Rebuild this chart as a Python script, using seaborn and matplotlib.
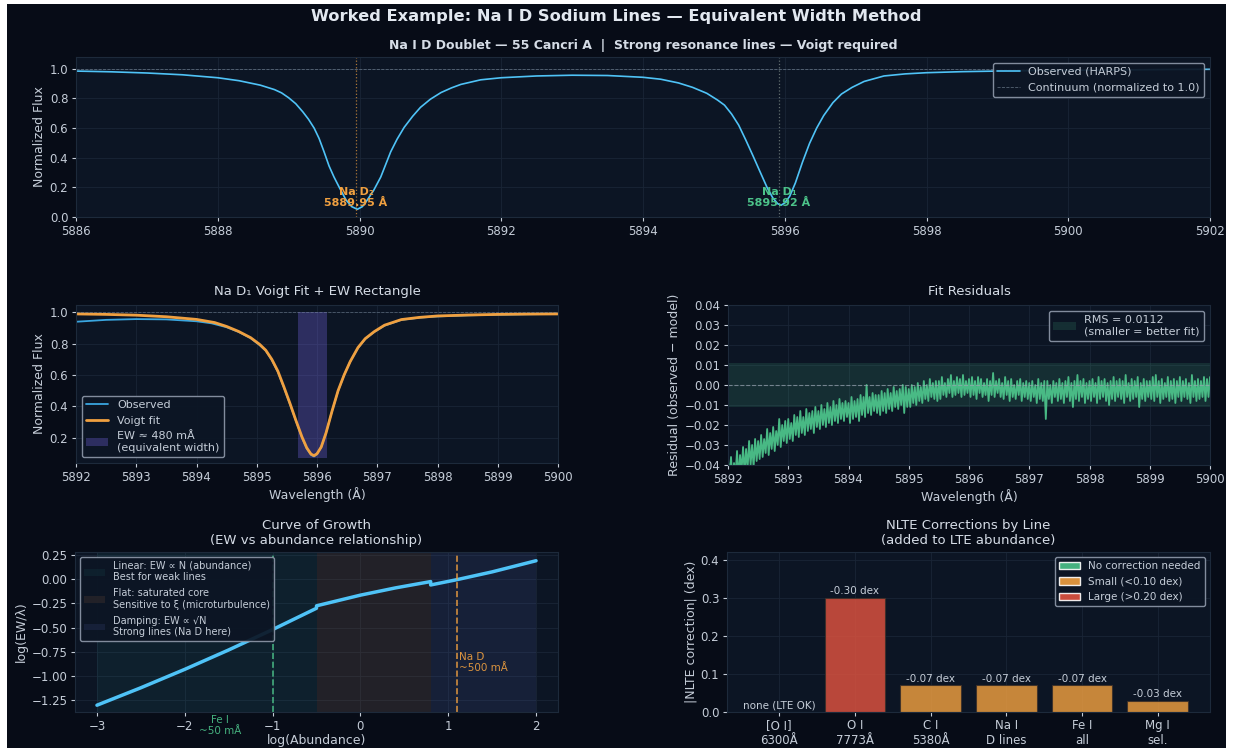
import numpy as np
import pandas as pd
import matplotlib
matplotlib.use("Agg")
import matplotlib.pyplot as plt
import seaborn as sns
from matplotlib.patches import Patch, Rectangle

# ---------------- data ----------------
wl_top = [5886.0, 5886.5, 5887.0, 5887.5, 5888.0, 5888.3, 5888.6, 5888.8, 5888.9, 5889.0,
          5889.1, 5889.2, 5889.28, 5889.36, 5889.43, 5889.5, 5889.57, 5889.64, 5889.72, 5889.81,
          5889.89, 5889.97, 5890.04, 5890.11, 5890.2, 5890.3, 5890.37, 5890.44, 5890.53, 5890.63,
          5890.75, 5890.86, 5891.0, 5891.15, 5891.3, 5891.43, 5891.71, 5892.0, 5892.5, 5893.0,
          5893.5, 5894.0, 5894.25, 5894.5, 5894.7, 5894.9, 5895.05, 5895.15, 5895.25, 5895.35,
          5895.45, 5895.55, 5895.65, 5895.75, 5895.83, 5895.9, 5895.95, 5896.0, 5896.07, 5896.15,
          5896.25, 5896.35, 5896.45, 5896.55, 5896.68, 5896.8, 5896.95, 5897.12, 5897.4, 5897.7,
          5898.0, 5898.5, 5899.0, 5899.5, 5900.0, 5900.5, 5901.0, 5901.5, 5902.0]
flux_top = [0.985, 0.980, 0.972, 0.960, 0.940, 0.920, 0.890, 0.860, 0.838, 0.805,
            0.765, 0.710, 0.660, 0.600, 0.530, 0.440, 0.345, 0.270, 0.195, 0.115,
            0.070, 0.052, 0.070, 0.115, 0.180, 0.270, 0.355, 0.440, 0.525, 0.605,
            0.680, 0.740, 0.795, 0.840, 0.872, 0.895, 0.926, 0.940, 0.952, 0.957,
            0.955, 0.943, 0.930, 0.905, 0.875, 0.835, 0.790, 0.755, 0.695, 0.620,
            0.520, 0.415, 0.307, 0.200, 0.130, 0.090, 0.080, 0.095, 0.140, 0.230,
            0.370, 0.497, 0.600, 0.685, 0.772, 0.830, 0.875, 0.915, 0.952, 0.966,
            0.974, 0.981, 0.985, 0.988, 0.990, 0.992, 0.994, 0.996, 0.997]

wl_fit = [5892.0, 5892.5, 5893.0, 5893.5, 5894.0, 5894.3, 5894.5, 5894.7, 5894.9, 5895.05,
          5895.15, 5895.25, 5895.35, 5895.45, 5895.55, 5895.65, 5895.75, 5895.83, 5895.9, 5895.95,
          5896.0, 5896.07, 5896.15, 5896.25, 5896.35, 5896.45, 5896.55, 5896.68, 5896.8, 5896.95,
          5897.12, 5897.4, 5897.7, 5898.0, 5898.5, 5899.0, 5899.5, 5900.0]
flux_fit = [0.990, 0.987, 0.982, 0.972, 0.955, 0.935, 0.910, 0.878, 0.838, 0.795,
            0.758, 0.700, 0.625, 0.525, 0.420, 0.310, 0.205, 0.135, 0.095, 0.085,
            0.097, 0.140, 0.230, 0.370, 0.500, 0.600, 0.685, 0.775, 0.832, 0.877,
            0.918, 0.954, 0.968, 0.977, 0.983, 0.987, 0.989, 0.990]

# residual band: upper and lower excursions every 0.05 A from 5892 to 5900
resid_hi = [
    -0.038, -0.036, -0.039, -0.033, -0.035, -0.031, -0.032, -0.028, -0.030, -0.027,
    -0.028, -0.025, -0.027, -0.022, -0.024, -0.021, -0.023, -0.017, -0.020, -0.018,
    -0.017, -0.019, -0.015, -0.016, -0.013, -0.016, -0.012, -0.014, -0.013, -0.011,
    -0.013, -0.010, -0.012, -0.009, -0.011, -0.008, -0.010, -0.007, -0.009, -0.008,
    -0.009, -0.006, -0.008, -0.007, -0.005, -0.006, 0.000, -0.006, -0.004, -0.005,
    -0.005, -0.003, -0.004, -0.002, -0.004, -0.001, -0.003, -0.002, 0.000, -0.001,
    -0.002, 0.000, -0.001, 0.001, -0.001, 0.002, 0.000, 0.003, 0.001, 0.002,
    0.002, 0.004, 0.001, 0.003, 0.005, 0.002, 0.004, 0.003, 0.005, 0.002,
    0.003, 0.004, 0.002, 0.004, 0.003, 0.001, 0.003, 0.002, 0.006, 0.002,
    0.003, 0.001, 0.004, 0.002, 0.003, 0.000, 0.002, 0.003, 0.001, 0.002,
    0.001, 0.002, 0.000, 0.003, 0.001, 0.002, 0.002, 0.000, 0.002, 0.001,
    0.003, 0.001, 0.002, 0.004, 0.001, 0.002, 0.005, 0.002, 0.003, 0.001,
    0.002, 0.003, 0.001, 0.004, 0.002, 0.003, 0.001, 0.002, 0.004, 0.002,
    0.003, 0.002, 0.005, 0.001, 0.003, 0.002, 0.004, 0.001, 0.003, 0.002,
    0.002, 0.004, 0.005, 0.002, 0.003, 0.001, 0.004, 0.002, 0.003, 0.002,
    0.004, 0.002, 0.003, 0.001, 0.005, 0.002, 0.003, 0.002, 0.004, 0.003,
    0.004]
resid_lo = [
    -0.046, -0.048, -0.045, -0.047, -0.043, -0.044, -0.042, -0.040, -0.041, -0.038,
    -0.037, -0.036, -0.034, -0.035, -0.032, -0.033, -0.030, -0.031, -0.028, -0.029,
    -0.027, -0.028, -0.025, -0.026, -0.024, -0.025, -0.023, -0.022, -0.024, -0.021,
    -0.022, -0.020, -0.021, -0.019, -0.020, -0.018, -0.019, -0.017, -0.018, -0.016,
    -0.019, -0.017, -0.016, -0.018, -0.015, -0.016, -0.014, -0.015, -0.013, -0.014,
    -0.015, -0.013, -0.014, -0.012, -0.013, -0.011, -0.012, -0.010, -0.014, -0.011,
    -0.011, -0.009, -0.010, -0.008, -0.009, -0.007, -0.008, -0.006, -0.007, -0.008,
    -0.007, -0.005, -0.006, -0.004, -0.006, -0.005, -0.004, -0.006, -0.005, -0.004,
    -0.006, -0.005, -0.007, -0.004, -0.006, -0.005, -0.008, -0.005, -0.006, -0.004,
    -0.006, -0.007, -0.005, -0.008, -0.006, -0.007, -0.005, -0.008, -0.006, -0.007,
    -0.008, -0.006, -0.009, -0.007, -0.008, -0.017, -0.007, -0.009, -0.006, -0.008,
    -0.007, -0.009, -0.006, -0.008, -0.011, -0.007, -0.008, -0.006, -0.009, -0.007,
    -0.008, -0.006, -0.009, -0.007, -0.006, -0.008, -0.010, -0.007, -0.008, -0.006,
    -0.007, -0.009, -0.006, -0.008, -0.007, -0.006, -0.011, -0.007, -0.008, -0.006,
    -0.007, -0.008, -0.006, -0.009, -0.007, -0.006, -0.008, -0.007, -0.009, -0.006,
    -0.008, -0.006, -0.007, -0.009, -0.006, -0.008, -0.007, -0.006, -0.008, -0.006,
    -0.005]
rms = 0.0112

d2_center, d1_center = 5889.95, 5895.92
ew_mA = 480

cog_logN = [-3.0, -2.5, -2.0, -1.5, -1.0, -0.75, -0.5, -0.5, 0.0, 0.4, 0.8, 0.8, 1.1, 1.5, 2.0]
cog_logEW = [-1.30, -1.12, -0.93, -0.73, -0.52, -0.41, -0.30, -0.275, -0.165, -0.09, -0.025,
             -0.06, -0.005, 0.075, 0.19]
regime_edges = [-3.0, -0.5, 0.8, 2.0]
regime_labels = ["Linear: EW \u221d N (abundance)\nBest for weak lines",
                 "Flat: saturated core\nSensitive to \u03be (microturbulence)",
                 "Damping: EW \u221d \u221aN\nStrong lines (Na D here)"]
fe_logN, nad_logN = -1.0, 1.1

nlte_lines = ["[O I]\n6300\u00c5", "O I\n7773\u00c5", "C I\n5380\u00c5", "Na I\nD lines", "Fe I\nall", "Mg I\nsel."]
nlte_corr = [0.0, 0.30, 0.07, 0.07, 0.07, 0.03]
nlte_class = ["none", "large", "small", "small", "small", "small"]
nlte_text = ["none (LTE OK)", "-0.30 dex", "-0.07 dex", "-0.07 dex", "-0.07 dex", "-0.03 dex"]

# ---------------- style ----------------
BG = "#070c17"
AXBG = "#0c1524"
TXT = "#c5cdd8"
GRID = "#1a2536"
BLUE = "#4fc3f7"
ORANGE = "#f0a040"
GREEN = "#4cc38a"
RED = "#e0533f"

sns.set_theme(style="darkgrid", rc={
    "figure.facecolor": BG, "axes.facecolor": AXBG, "axes.edgecolor": "#1d2a3b",
    "axes.labelcolor": TXT, "xtick.color": TXT, "ytick.color": TXT, "text.color": TXT,
    "grid.color": GRID, "grid.linewidth": 0.6, "axes.titlecolor": "#d5dce6",
    "xtick.bottom": True, "ytick.left": True, "xtick.major.size": 3, "ytick.major.size": 3,
    "xtick.major.width": 0.8, "ytick.major.width": 0.8, "xtick.major.pad": 2.5, "ytick.major.pad": 2.5,
    "xtick.labelsize": 8.5, "ytick.labelsize": 8.5, "axes.labelsize": 9, "axes.titlesize": 9.5,
    "axes.linewidth": 0.8, "axes.labelpad": 2.5,
})
plt.rcParams["font.family"] = ["DejaVu Sans"]

W, H = 1233, 748
fig = plt.figure(figsize=(W / 100, H / 100), dpi=100)
fig.patch.set_facecolor("white")
fig.add_artist(Rectangle((7 / W, 0), (1226 - 7) / W, 744 / H, transform=fig.transFigure,
                         facecolor=BG, edgecolor="none", zorder=-10))


def box(l, t, r, b):
    return [l / W, 1 - b / H, (r - l) / W, (b - t) / H]


def style_legend(leg):
    leg.get_frame().set_facecolor(AXBG)
    leg.get_frame().set_edgecolor("#8d97a8")
    leg.get_frame().set_alpha(0.92)
    for t in leg.get_texts():
        t.set_color(TXT)


fig.text(0.5, 1 - 17 / H, "Worked Example: Na I D Sodium Lines \u2014 Equivalent Width Method",
         ha="center", va="center", fontsize=11.7, fontweight="bold", color="#e2e8f0")

# ---------------- top panel ----------------
ax0 = fig.add_axes(box(76, 57, 1210, 217))
sns.lineplot(x=wl_top, y=flux_top, ax=ax0, color=BLUE, lw=1.2, label="Observed (HARPS)")
ax0.axhline(1.0, color="#8899aa", ls="--", lw=0.6, alpha=0.6, label="Continuum (normalized to 1.0)")
ax0.axvline(d2_center, color=ORANGE, ls=":", lw=0.9, alpha=0.7)
ax0.axvline(d1_center, color="#9aa8a0", ls=":", lw=0.9, alpha=0.6)
ax0.text(d2_center, 0.06, f"Na D\u2082\n{d2_center:.2f} \u00c5", color=ORANGE, fontsize=8,
         fontweight="bold", ha="center", va="bottom", linespacing=1.1)
ax0.text(d1_center, 0.06, f"Na D\u2081\n{d1_center:.2f} \u00c5", color=GREEN, fontsize=8,
         fontweight="bold", ha="center", va="bottom", linespacing=1.1)
ax0.set_xlim(5886, 5902)
ax0.set_ylim(0, 1.08)
ax0.set_xticks(np.arange(5886, 5903, 2))
ax0.set_yticks(np.arange(0, 1.01, 0.2))
ax0.set_ylabel("Normalized Flux")
ax0.set_title("Na I D Doublet \u2014 55 Cancri A  |  Strong resonance lines \u2014 Voigt required",
              fontweight="bold", fontsize=9, pad=6)
leg = ax0.legend(loc="upper right", fontsize=8)
style_legend(leg)

# ---------------- middle left ----------------
ax1 = fig.add_axes(box(76, 305, 558, 463))
wl_mid = [w for w in wl_top if w >= 5892.0]
fl_mid = [f for w, f in zip(wl_top, flux_top) if w >= 5892.0]
ew_half = ew_mA / 1000 / 2
ew_label = f"EW \u2248 {ew_mA} m\u00c5\n(equivalent width)"
ax1.fill_between([d1_center - ew_half, d1_center + ew_half], min(flux_fit) - 0.015, 1.0,
                 color="#7b68ee", alpha=0.3, lw=0, label=ew_label)
sns.lineplot(x=wl_mid, y=fl_mid, ax=ax1, color="#3aa6e0", lw=1.3, label="Observed")
sns.lineplot(x=wl_fit, y=flux_fit, ax=ax1, color=ORANGE, lw=2.0, label="Voigt fit")
ax1.axhline(1.0, color="#8899aa", ls="--", lw=0.6, alpha=0.5)
ax1.set_xlim(5892, 5900)
ax1.set_ylim(0.038, 1.047)
ax1.set_yticks([0.2, 0.4, 0.6, 0.8, 1.0])
ax1.set_xlabel("Wavelength (\u00c5)")
ax1.set_ylabel("Normalized Flux")
ax1.set_title("Na D\u2081 Voigt Fit + EW Rectangle", pad=7)
h, l = ax1.get_legend_handles_labels()
order = [l.index("Observed"), l.index("Voigt fit"), l.index(ew_label)]
leg = ax1.legend([h[i] for i in order], [l[i] for i in order], loc="lower left", fontsize=8)
style_legend(leg)

# ---------------- middle right ----------------
ax2 = fig.add_axes(box(728, 305, 1210, 465))
wl_res = np.linspace(5892.0, 5900.0, len(resid_hi))
step = (wl_res[1] - wl_res[0]) / 2
res_x, res_y = [], []
for w, hi, lo in zip(wl_res, resid_hi, resid_lo):
    res_x += [w, w + step]
    res_y += [hi, lo]
ax2.axhspan(-rms, rms, color=GREEN, alpha=0.15, lw=0, label=f"RMS = {rms:.4f}\n(smaller = better fit)")
sns.lineplot(x=res_x, y=res_y, ax=ax2, sort=False, estimator=None, color=GREEN, lw=1.3, alpha=0.95)
ax2.axhline(0, color="#9aa4b2", ls="--", lw=0.8, alpha=0.7)
ax2.set_xlim(5892, 5900)
ax2.set_ylim(-0.04, 0.04)
ax2.set_yticks(np.arange(-0.04, 0.041, 0.01))
ax2.set_xlabel("Wavelength (\u00c5)")
ax2.set_ylabel("Residual (observed \u2212 model)")
ax2.set_title("Fit Residuals", pad=7)
leg = ax2.legend(loc="upper right", fontsize=8)
style_legend(leg)

# ---------------- bottom left ----------------
ax3 = fig.add_axes(box(75, 552, 558, 712))
span_cols = [("#26a69a", 0.08), ("#a1673f", 0.15), ("#5c6bc0", 0.13)]
for i in range(3):
    c, a = span_cols[i]
    ax3.axvspan(regime_edges[i], regime_edges[i + 1], color=c, alpha=a, lw=0, label=regime_labels[i])
sns.lineplot(x=cog_logN, y=cog_logEW, ax=ax3, sort=False, estimator=None, color=BLUE, lw=2.5)
ax3.axvline(fe_logN, color=GREEN, ls="--", lw=1.2, alpha=0.85)
ax3.axvline(nad_logN, color=ORANGE, ls="--", lw=1.2, alpha=0.85)
ax3.text(-1.6, -1.51, "Fe I\n~50 m\u00c5", color=GREEN, fontsize=7.5, ha="center", va="center",
         clip_on=False, alpha=0.9)
ax3.text(1.12, -0.86, "Na D\n~500 m\u00c5", color=ORANGE, fontsize=7.5, ha="left", va="center",
         alpha=0.9, linespacing=1.2)
ax3.set_xlim(-3.25, 2.25)
ax3.set_ylim(-1.37, 0.28)
ax3.set_xticks(range(-3, 3))
ax3.set_yticks(np.arange(-1.25, 0.26, 0.25))
ax3.set_xlabel("log(Abundance)", labelpad=1)
ax3.set_ylabel("log(EW/\u03bb)")
ax3.set_title("Curve of Growth\n(EW vs abundance relationship)", pad=6, linespacing=1.15)
leg = ax3.legend(loc="upper left", fontsize=7, labelspacing=0.6, handlelength=2.2)
style_legend(leg)

# ---------------- bottom right ----------------
ax4 = fig.add_axes(box(727, 552, 1210, 712))
cls_col = {"none": GREEN, "small": ORANGE, "large": RED}
df = pd.DataFrame({"line": nlte_lines, "corr": nlte_corr, "cls": nlte_class})
sns.barplot(data=df, x="line", y="corr", hue="line", ax=ax4,
            palette=[cls_col[c] for c in nlte_class], saturation=1, alpha=0.82,
            edgecolor="#3a2e28", linewidth=0.8, legend=False, width=0.8)
for i, (v, t) in enumerate(zip(nlte_corr, nlte_text)):
    ax4.text(i, v + 0.004, t, ha="center", va="bottom", fontsize=7.5, color=TXT)
ax4.set_xlim(-0.69, 5.69)
ax4.set_ylim(0, 0.42)
ax4.set_yticks([0, 0.1, 0.2, 0.3, 0.4])
ax4.set_xlabel("")
ax4.set_ylabel("|NLTE correction| (dex)")
ax4.tick_params(axis="x", labelsize=8.5, pad=2)
ax4.set_title("NLTE Corrections by Line\n(added to LTE abundance)", pad=6, linespacing=1.15)
handles = [Patch(facecolor=GREEN, alpha=0.9), Patch(facecolor=ORANGE, alpha=0.9), Patch(facecolor=RED, alpha=0.9)]
leg = ax4.legend(handles, ["No correction needed", "Small (<0.10 dex)", "Large (>0.20 dex)"],
                 loc="upper right", fontsize=7.5)
style_legend(leg)

for ax in [ax0, ax1, ax2, ax3, ax4]:
    ax.grid(True, color=GRID, lw=0.6)
    for s in ax.spines.values():
        s.set_color("#1d2a3b")

fig.savefig("out.png", dpi=100)
